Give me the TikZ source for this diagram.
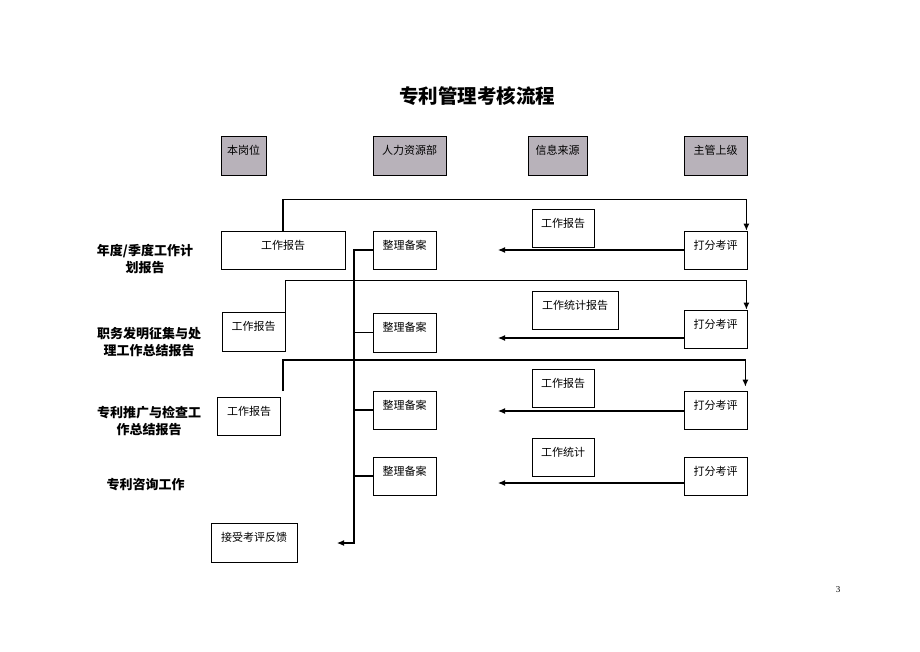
\documentclass[tikz,border=0pt]{standalone}
\usepackage{fontspec}
\setmainfont{Noto Sans CJK SC}
\newfontfamily\pagefont{Liberation Serif}
\usetikzlibrary{shapes,arrows,arrows.meta,positioning}
\definecolor{headgray}{RGB}{184,178,186}

\begin{document}
\begin{tikzpicture}[x=1pt, y=-1pt]
    % Styles
    \tikzstyle{head} = [rectangle, draw, fill=headgray, line width=0.8pt, minimum height=39pt, inner sep=0pt, text height=9pt, text depth=11pt, font=\fontsize{11}{13}\selectfont]
    \tikzstyle{box} = [rectangle, draw, line width=0.8pt, minimum height=38pt, inner sep=0pt, text height=9pt, text depth=11pt, font=\fontsize{11}{13}\selectfont]
    \tikzstyle{rowtext} = [align=center, font=\bfseries\fontsize{13}{17}\selectfont]
    \tikzstyle{arrow} = [line width=1.1pt,-{Latex[length=7pt,width=6pt]}]
    \tikzstyle{link} = [line width=1.1pt]

    \useasboundingbox (0,0) rectangle (920,651);

    % Title
    \node [font=\bfseries\fontsize{19.5}{22}\selectfont] (title) at (477,96) {专利管理考核流程};

    % Column heads
    \node [head, minimum width=45pt] (hbg) at (243.5,155.5) {本岗位};
    \node [head, minimum width=73pt] (hrl) at (409.5,155.5) {人力资源部};
    \node [head, minimum width=59pt] (hxx) at (557.5,155.5) {信息来源};
    \node [head, minimum width=63pt] (hzg) at (715.5,155.5) {主管上级};

    % Row labels
    \node [rowtext] (r1) at (145,259.5) {年度/季度工作计\\划报告};
    \node [rowtext] (r2) at (149,342.5) {职务发明征集与处\\理工作总结报告};
    \node [rowtext] (r3) at (149,420.5) {专利推广与检查工\\作总结报告};
    \node [rowtext] (r4) at (145.5,485) {专利咨询工作};

    % Nodes
    \node [box, minimum width=124pt] (bg1) at (283,250) {工作报告};
    \node [box, minimum width=63pt] (zl1) at (404.5,250) {整理备案};
    \node [box, minimum width=62pt] (xx1) at (563,228) {工作报告};
    \node [box, minimum width=63pt] (df1) at (715.5,250) {打分考评};

    \node [box, minimum width=63pt, minimum height=39pt] (bg2) at (253.5,331.5) {工作报告};
    \node [box, minimum width=63pt, minimum height=39pt] (zl2) at (404.5,332.5) {整理备案};
    \node [box, minimum width=86pt] (xx2) at (575,310) {工作统计报告};
    \node [box, minimum width=63pt] (df2) at (715.5,329) {打分考评};

    \node [box, minimum width=63pt] (bg3) at (249,416) {工作报告};
    \node [box, minimum width=63pt] (zl3) at (404.5,410) {整理备案};
    \node [box, minimum width=62pt] (xx3) at (563,388) {工作报告};
    \node [box, minimum width=63pt] (df3) at (715.5,410) {打分考评};

    \node [box, minimum width=63pt] (zl4) at (404.5,476) {整理备案};
    \node [box, minimum width=62pt] (xx4) at (563,457) {工作统计};
    \node [box, minimum width=63pt] (df4) at (715.5,476) {打分考评};

    \node [box, minimum width=86pt, minimum height=39pt] (fb) at (254,542.5) {接受考评反馈};

    \node [font=\pagefont\fontsize{9}{11}\selectfont] (pg) at (838,590) {3};

    % Free ends
    \coordinate (s3) at (283,391);
    \coordinate (t1) at (498,250);
    \coordinate (t2) at (498,338);
    \coordinate (t3) at (498,411);
    \coordinate (t4) at (498,483);
    \coordinate (sp) at (354,250);
    \coordinate (fbin) at (337,543);

    % Arrows
    \draw [arrow] (bg1.north) -- ++(0,-31) -| ([xshift=-1pt]df1.north east);
    \draw [arrow] (bg2.north east) -- ++(0,-31) -| ([xshift=-1pt]df2.north east);
    \draw [arrow] (s3) -- ++(0,-31) -| ([xshift=-2pt,yshift=4pt]df3.north east);

    \draw [arrow] (df1.west) -- (t1);
    \draw [arrow] (t2 -| df2.west) -- (t2);
    \draw [arrow] (t3 -| df3.west) -- (t3);
    \draw [arrow] (t4 -| df4.west) -- (t4);

    \draw [arrow] (zl1.west) -- (sp) |- (fbin);
    \draw [link] (zl2.west) -- (zl2.west -| sp);
    \draw [link] (zl3.west) -- (zl3.west -| sp);
    \draw [link] (zl4.west) -- (zl4.west -| sp);
\end{tikzpicture}
\end{document}
